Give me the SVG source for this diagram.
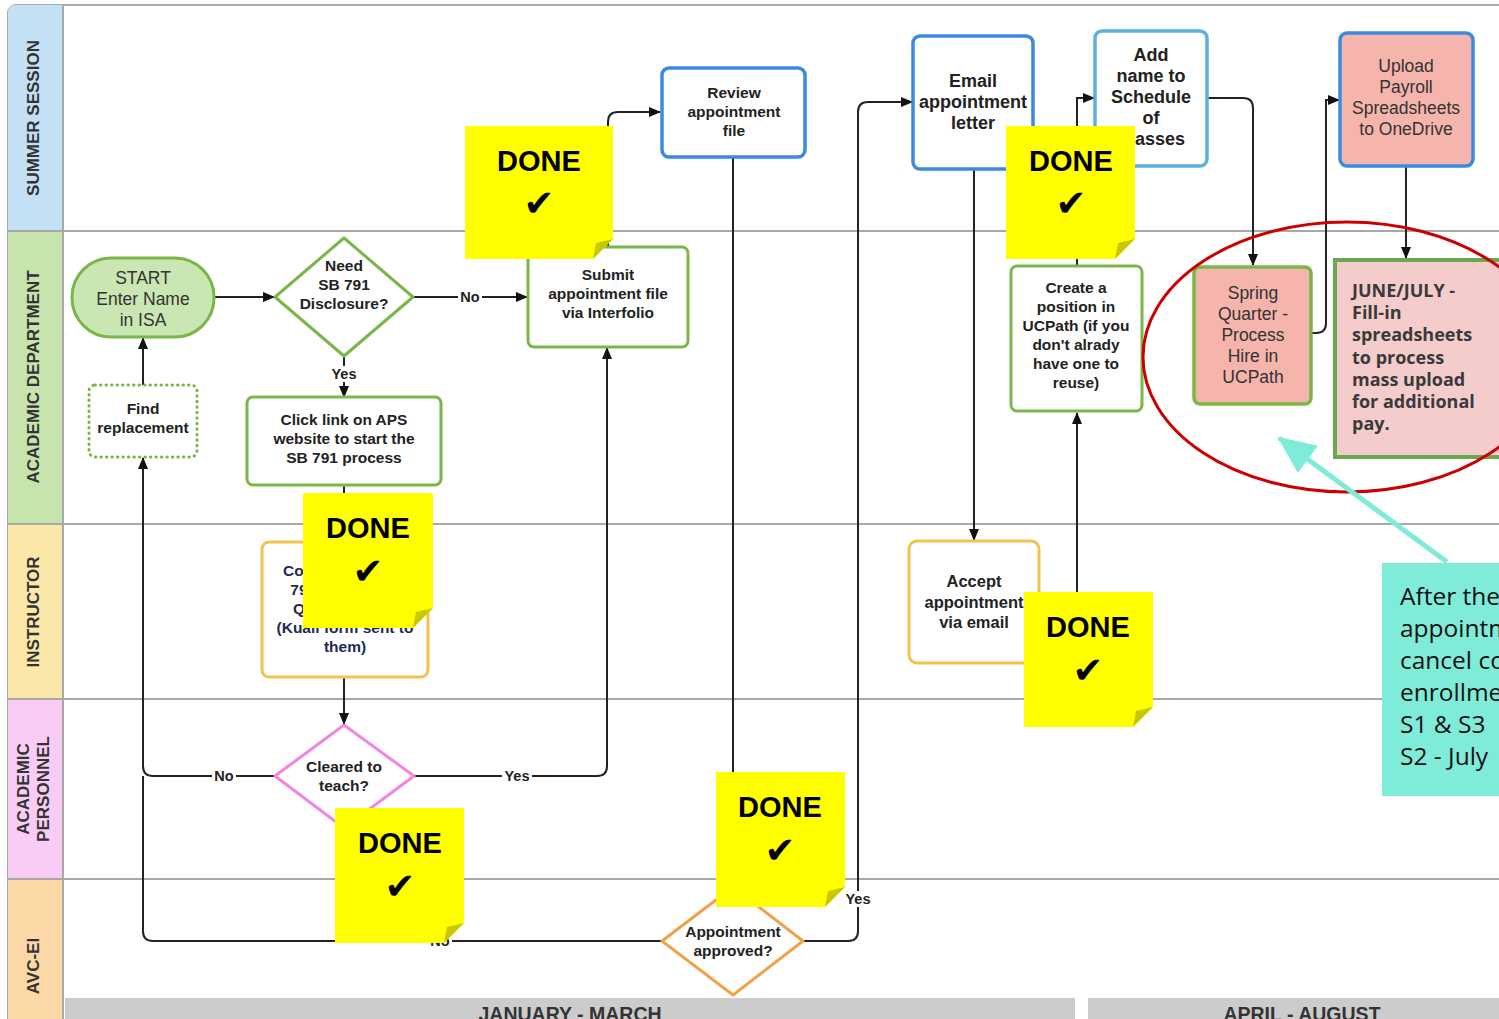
<svg xmlns="http://www.w3.org/2000/svg" width="1499" height="1019" viewBox="0 0 1499 1019">
<defs>
<marker id="ah" markerWidth="12" markerHeight="10" refX="11" refY="5" orient="auto" markerUnits="userSpaceOnUse">
<path d="M0,0 L12,5 L0,10 z" fill="#111"/>
</marker>
<marker id="ta" markerWidth="40" markerHeight="34" refX="36" refY="17" orient="auto" markerUnits="userSpaceOnUse">
<path d="M0,0 L38,17 L0,34 z" fill="#7eecd8"/>
</marker>
<style>
.t{font-family:"Liberation Sans",Arial,sans-serif;font-weight:bold;font-size:15.5px;fill:#222;text-anchor:middle}
.big{font-size:18px}
.reg{font-family:"Liberation Sans",Arial,sans-serif;font-size:17.5px;fill:#333;text-anchor:middle}
.lane{font-family:"Liberation Sans",Arial,sans-serif;font-weight:bold;font-size:17px;fill:#333;text-anchor:middle}
.lbl{font-family:"Liberation Sans",Arial,sans-serif;font-weight:bold;font-size:14.5px;fill:#222;text-anchor:middle}
.done{font-family:"Liberation Sans",Arial,sans-serif;font-weight:bold;font-size:29px;fill:#000;text-anchor:middle}
.chk{font-family:"DejaVu Sans",sans-serif;font-size:37px;fill:#000;text-anchor:middle}
.c{fill:none;stroke:#222;stroke-width:2}
.g{fill:#fff;stroke:#7ab648;stroke-width:3}
.b{fill:#fff;stroke:#3b8ae0;stroke-width:3.5}
.o{fill:#fff;stroke:#f3c24f;stroke-width:3}
.sticky{fill:#ffff00}
.fold{fill:#c9c800}
.ln{stroke:#a8a8a8;stroke-width:2}
</style>
</defs>

<g id="lanes">
<rect x="8" y="5" width="1500" height="1030" rx="8" fill="#fff" stroke="#aaa" stroke-width="2"/>
<path d="M8,231 V13 Q8,5 16,5 H63 V231 z" fill="#c4e0f5"/>
<rect x="8" y="231" width="55" height="293" fill="#c7e4ad"/>
<rect x="8" y="524" width="55" height="175" fill="#fbe8a8"/>
<rect x="8" y="699" width="55" height="180" fill="#f8ccf4"/>
<rect x="8" y="879" width="55" height="140" fill="#fbd8a5"/>
<line x1="63" y1="5" x2="63" y2="1019" class="ln"/>
<line x1="8" y1="231" x2="1499" y2="231" class="ln"/>
<line x1="8" y1="524" x2="1499" y2="524" class="ln"/>
<line x1="8" y1="699" x2="1499" y2="699" class="ln"/>
<line x1="8" y1="879" x2="1499" y2="879" class="ln"/>
<text class="lane" transform="translate(39,118) rotate(-90)">SUMMER SESSION</text>
<text class="lane" transform="translate(39,377) rotate(-90)">ACADEMIC DEPARTMENT</text>
<text class="lane" transform="translate(39,612) rotate(-90)">INSTRUCTOR</text>
<text class="lane" transform="translate(29,789) rotate(-90)">ACADEMIC</text>
<text class="lane" transform="translate(49,789) rotate(-90)">PERSONNEL</text>
<text class="lane" transform="translate(39,966) rotate(-90)">AVC-EI</text>
<rect x="65" y="998" width="1010" height="30" fill="#cccccc"/>
<rect x="1088" y="998" width="420" height="30" fill="#cccccc"/>
<text class="lane" x="570" y="1021" style="font-size:19.5px">JANUARY - MARCH</text>
<text class="lane" x="1302" y="1021" style="font-size:19.5px">APRIL - AUGUST</text>
</g>

<g id="connectors">
<path class="c" d="M214,297 H274" marker-end="url(#ah)"/>
<path class="c" d="M413,297 H527" marker-end="url(#ah)"/>
<path class="c" d="M344,356 V397" marker-end="url(#ah)"/>
<path class="c" d="M344,485 V541"/>
<path class="c" d="M344,677 V724" marker-end="url(#ah)"/>
<path class="c" d="M275,776 H153 Q143,776 143,766 V458" marker-end="url(#ah)"/>
<path class="c" d="M414,776 H597 Q607,776 607,766 V348" marker-end="url(#ah)"/>
<path class="c" d="M143,385 V338" marker-end="url(#ah)"/>
<path class="c" d="M608,247 V122 Q608,112 618,112 H660" marker-end="url(#ah)"/>
<path class="c" d="M733,158 V886"/>
<path class="c" d="M662,941 H153 Q143,941 143,931 V776"/>
<path class="c" d="M803,941 H848 Q858,941 858,931 V112 Q858,102 868,102 H912" marker-end="url(#ah)"/>
<path class="c" d="M974,170 V540" marker-end="url(#ah)"/>
<path class="c" d="M1039,601 H1067 Q1077,601 1077,591 V413" marker-end="url(#ah)"/>
<path class="c" d="M1077,266 V98 H1094" marker-end="url(#ah)"/>
<path class="c" d="M1208,98 H1243 Q1253,98 1253,108 V265" marker-end="url(#ah)"/>
<path class="c" d="M1312,333 H1316 Q1326,333 1326,323 V100 H1339" marker-end="url(#ah)"/>
<path class="c" d="M1406,166 V258" marker-end="url(#ah)"/>
<rect x="458" y="289" width="24" height="16" fill="#fff"/>
<text class="lbl" x="470" y="302">No</text>
<rect x="329" y="366" width="30" height="16" fill="#fff"/>
<text class="lbl" x="344" y="379">Yes</text>
<rect x="212" y="768" width="24" height="16" fill="#fff"/>
<text class="lbl" x="224" y="781">No</text>
<rect x="502" y="768" width="30" height="16" fill="#fff"/>
<text class="lbl" x="517" y="781">Yes</text>
<rect x="428" y="933" width="24" height="16" fill="#fff"/>
<text class="lbl" x="440" y="946">No</text>
<rect x="843" y="891" width="30" height="16" fill="#fff"/>
<text class="lbl" x="858" y="904">Yes</text>
</g>

<g id="start">
<rect x="72" y="258" width="142" height="79" rx="39" fill="#c9e6b3" stroke="#7ab648" stroke-width="3"/>
<text class="reg" x="143" y="284">START</text>
<text class="reg" x="143" y="305">Enter Name</text>
<text class="reg" x="143" y="326">in ISA</text>
</g>
<g id="need-sb791">
<polygon points="344,238 413,297 344,356 275,297" class="g" stroke-linejoin="round"/>
<text class="t" x="344" y="271">Need</text>
<text class="t" x="344" y="290">SB 791</text>
<text class="t" x="344" y="309">Disclosure?</text>
</g>
<g id="submit">
<rect x="528" y="247" width="160" height="100" rx="6" class="g"/>
<text class="t" x="608" y="280">Submit</text>
<text class="t" x="608" y="299">appointment file</text>
<text class="t" x="608" y="318">via Interfolio</text>
</g>
<g id="review">
<rect x="662" y="68" width="143" height="89" rx="7" class="b"/>
<text class="t" x="734" y="98">Review</text>
<text class="t" x="734" y="117">appointment</text>
<text class="t" x="734" y="136">file</text>
</g>
<g id="click-link">
<rect x="247" y="397" width="194" height="88" rx="6" class="g"/>
<text class="t" x="344" y="425">Click link on APS</text>
<text class="t" x="344" y="444">website to start the</text>
<text class="t" x="344" y="463">SB 791 process</text>
</g>
<g id="find-replacement">
<rect x="89" y="385" width="108" height="72" rx="6" fill="#fff" stroke="#7ab648" stroke-width="3" stroke-dasharray="0.5 5" stroke-linecap="round"/>
<text class="t" x="143" y="414">Find</text>
<text class="t" x="143" y="433">replacement</text>
</g>
<g id="complete-questionnaire">
<rect x="262" y="542" width="166" height="135" rx="7" class="o"/>
<text class="t" x="345" y="576" style="fill:#1e2b4f">Complete the SB</text>
<text class="t" x="345" y="595" style="fill:#1e2b4f">791 Disclosure</text>
<text class="t" x="345" y="614" style="fill:#1e2b4f">Questionnaire</text>
<text class="t" x="345" y="633" style="fill:#1e2b4f">(Kuali form sent to</text>
<text class="t" x="345" y="652" style="fill:#1e2b4f">them)</text>
</g>
<g id="cleared">
<polygon points="344,725 414,776 344,828 275,776" fill="#fff" stroke="#ee86e2" stroke-width="3" stroke-linejoin="round"/>
<text class="t" x="344" y="772">Cleared to</text>
<text class="t" x="344" y="791">teach?</text>
</g>
<g id="approved">
<polygon points="733,887 803,941 733,995 662,941" fill="#fff" stroke="#f0a24a" stroke-width="3" stroke-linejoin="round"/>
<text class="t" x="733" y="937">Appointment</text>
<text class="t" x="733" y="956">approved?</text>
</g>
<g id="email-letter">
<rect x="913" y="36" width="120" height="133" rx="7" class="b"/>
<text class="t big" x="973" y="87">Email</text>
<text class="t big" x="973" y="108">appointment</text>
<text class="t big" x="973" y="129">letter</text>
</g>
<g id="accept">
<rect x="909" y="541" width="130" height="122" rx="8" class="o"/>
<text class="t" x="974" y="587" style="font-size:16.5px">Accept</text>
<text class="t" x="974" y="608" style="font-size:16.5px">appointment</text>
<text class="t" x="974" y="628" style="font-size:16.5px">via email</text>
</g>
<g id="create-position">
<rect x="1011" y="266" width="131" height="145" rx="6" class="g"/>
<text class="t" x="1076" y="293">Create a</text>
<text class="t" x="1076" y="312">position in</text>
<text class="t" x="1076" y="331">UCPath (if you</text>
<text class="t" x="1076" y="350">don't alrady</text>
<text class="t" x="1076" y="369">have one to</text>
<text class="t" x="1076" y="388">reuse)</text>
</g>
<g id="add-name">
<rect x="1095" y="31" width="112" height="135" rx="7" fill="#fff" stroke="#5cb0e0" stroke-width="3.5"/>
<text class="t big" x="1151" y="61">Add</text>
<text class="t big" x="1151" y="82">name to</text>
<text class="t big" x="1151" y="103">Schedule</text>
<text class="t big" x="1151" y="124">of</text>
<text class="t big" x="1151" y="145">Classes</text>
</g>
<g id="spring-quarter">
<rect x="1194" y="267" width="117" height="137" rx="6" fill="#f5b4ac" stroke="#7ab648" stroke-width="3.5"/>
<text class="reg" x="1253" y="299">Spring</text>
<text class="reg" x="1253" y="320">Quarter -</text>
<text class="reg" x="1253" y="341">Process</text>
<text class="reg" x="1253" y="362">Hire in</text>
<text class="reg" x="1253" y="383">UCPath</text>
</g>
<g id="upload-payroll">
<rect x="1340" y="33" width="133" height="133" rx="7" fill="#f5b4ac" stroke="#3b8ae0" stroke-width="3.5"/>
<text class="reg" x="1406" y="72">Upload</text>
<text class="reg" x="1406" y="93">Payroll</text>
<text class="reg" x="1406" y="114">Spreadsheets</text>
<text class="reg" x="1406" y="135">to OneDrive</text>
</g>
<g id="june-july">
<rect x="1335" y="260" width="200" height="197" fill="#f4cccc" stroke="#6aa84f" stroke-width="4"/>
<g style="font-family:'Open Sans','Noto Sans',sans-serif;font-weight:bold;font-size:18px;fill:#3a3a3a">
<text x="1352" y="297">JUNE/JULY -</text>
<text x="1352" y="319">Fill-in</text>
<text x="1352" y="341">spreadsheets</text>
<text x="1352" y="364">to process</text>
<text x="1352" y="386">mass upload</text>
<text x="1352" y="408">for additional</text>
<text x="1352" y="430">pay.</text>
</g>
</g>

<g id="highlight">
<ellipse cx="1347" cy="357" rx="204" ry="135" fill="none" stroke="#cc0000" stroke-width="3"/>
<line x1="1447" y1="562" x2="1279" y2="438" stroke="#7eecd8" stroke-width="5" marker-end="url(#ta)"/>
</g>
<g id="note">
<rect x="1382" y="563" width="140" height="233" fill="#7eecd8"/>
<g style="font-family:'Open Sans','Noto Sans',sans-serif;font-size:24.5px;fill:#111">
<text x="1400" y="605">After the</text>
<text x="1400" y="637">appointment</text>
<text x="1400" y="669">cancel course</text>
<text x="1400" y="701">enrollment</text>
<text x="1400" y="733">S1 &amp; S3</text>
<text x="1400" y="765">S2 - July</text>
</g>
</g>

<g id="stickies">
<g id="done1">
<path class="sticky" d="M465,126 H613 V239 L593,259 H465 z"/>
<path class="fold" d="M613,239 L593,259 L596,243 z"/>
<text class="done" x="539" y="171">DONE</text>
<text class="chk" x="539" y="216">✔</text>
</g>
<g id="done2">
<path class="sticky" d="M1006,126 H1135 V239 L1115,259 H1006 z"/>
<path class="fold" d="M1135,239 L1115,259 L1118,243 z"/>
<text class="done" x="1071" y="171">DONE</text>
<text class="chk" x="1071" y="216">✔</text>
</g>
<g id="done3">
<path class="sticky" d="M303,493 H433 V608 L413,628 H303 z"/>
<path class="fold" d="M433,608 L413,628 L416,612 z"/>
<text class="done" x="368" y="538">DONE</text>
<text class="chk" x="368" y="584">✔</text>
</g>
<g id="done4">
<path class="sticky" d="M335,808 H464 V923 L444,943 H335 z"/>
<path class="fold" d="M464,923 L444,943 L447,927 z"/>
<text class="done" x="400" y="853">DONE</text>
<text class="chk" x="400" y="899">✔</text>
</g>
<g id="done5">
<path class="sticky" d="M716,772 H845 V887 L825,907 H716 z"/>
<path class="fold" d="M845,887 L825,907 L828,891 z"/>
<text class="done" x="780" y="817">DONE</text>
<text class="chk" x="780" y="863">✔</text>
</g>
<g id="done6">
<path class="sticky" d="M1024,592 H1153 V707 L1133,727 H1024 z"/>
<path class="fold" d="M1153,707 L1133,727 L1136,711 z"/>
<text class="done" x="1088" y="637">DONE</text>
<text class="chk" x="1088" y="683">✔</text>
</g>
</g>
</svg>
